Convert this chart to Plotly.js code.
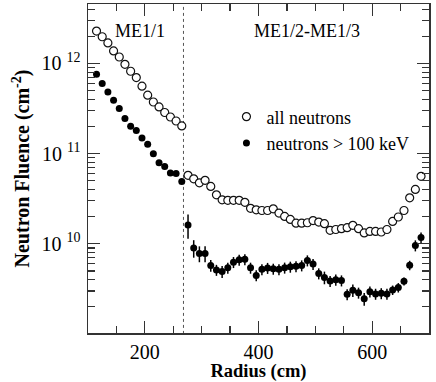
<!DOCTYPE html>
<html>
<head>
<meta charset="utf-8">
<script src="https://cdn.plot.ly/plotly-3.0.1.min.js"></script>
<style>html,body{margin:0;padding:0;background:#fff;}#chart{width:436px;height:382px;}</style>
</head>
<body>
<div id="chart"></div>
<script>
// Radius (cm)
const radius = [115,125,135,145,155,165,175,185,195,205,215,225,235,245,255,265,
  276,286,296,306,316,326,336,346,356,366,376,386,396,406,416,426,436,446,456,466,476,
  486,496,506,516,526,536,546,556,566,576,586,596,606,616,626,636,646,656,666,676,686];
// all neutrons (cm^-2)
const allNeutrons = [2.29e12,1.98e12,1.69e12,1.38e12,1.18e12,9.8e11,8.2e11,6.98e11,5.6e11,4.45e11,3.74e11,3.3e11,2.86e11,2.55e11,2.3e11,2.03e11,
  5.74e10,5.25e10,4.74e10,5.05e10,4.33e10,3.49e10,3.07e10,3.03e10,3.03e10,3.03e10,2.88e10,
  2.47e10,2.38e10,2.34e10,2.34e10,2.44e10,2.19e10,2.01e10,1.86e10,1.69e10,1.69e10,
  1.71e10,1.81e10,1.74e10,1.67e10,1.41e10,1.44e10,1.47e10,1.51e10,1.60e10,1.47e10,
  1.32e10,1.37e10,1.37e10,1.35e10,1.44e10,1.77e10,1.98e10,2.34e10,3.23e10,4.01e10,5.6e10];
// neutrons > 100 keV (cm^-2)
const fastNeutrons = [7.6e11,6.0e11,4.83e11,3.91e11,3.16e11,2.45e11,2.01e11,1.81e11,1.49e11,1.27e11,1.0e11,7.94e10,7.2e10,6.1e10,6.0e10,4.9e10,
  1.62e10,8.98e9,7.80e9,7.80e9,5.74e9,5.12e9,4.92e9,5.41e9,6.25e9,6.64e9,6.73e9,
  5.41e9,4.45e9,5.21e9,5.38e9,5.27e9,5.21e9,5.42e9,5.55e9,5.62e9,5.74e9,
  6.52e9,5.95e9,4.68e9,4.23e9,3.86e9,3.99e9,3.91e9,2.75e9,3.05e9,2.86e9,
  2.45e9,2.94e9,2.78e9,2.82e9,2.78e9,3.07e9,3.27e9,3.83e9,5.78e9,9.57e9,1.17e10];
// relative errors (%)
const allErrPct = [0,0,0,0,0,0,0,0,0,0,0,0,0,0,0,0,
  6,6,6,10,6,6,5,5,5,5,5,5,5,5,5,6,5,5,5,5,5,5,5,5,5,5,5,5,5,5,6,8,6,6,6,5,5,5,5,5,5,5];
const fastErrPct = [0,0,0,0,0,0,0,0,0,0,0,0,0,0,0,0,
  30,22,20,20,15,14,15,14,14,14,14,14,14,14,14,14,14,14,14,14,14,
  14,14,14,16,14,14,14,14,16,14,16,14,14,14,14,12,12,10,12,14,14];
// y tick labels
const yTickVals = [1e10, 1e11, 1e12];
const yTickText = ['10 <sup>10</sup>', '10 <sup>11</sup>', '10 <sup>12</sup>'];
const boundary = [268, 268];
const boundaryY = [1e9, 5e12];

const serif = 'Liberation Serif';
function errs(vals, pct){ return vals.map((v,i)=>v*pct[i]/100); }

const traces = [
  {x: boundary, y: boundaryY, mode:'lines', line:{color:'#555', width:1, dash:'dot'}, showlegend:false, hoverinfo:'skip'},
  {x: radius, y: allNeutrons, mode:'markers', name:'all neutrons',
   marker:{symbol:'circle', size:8, color:'#fff', line:{color:'#111', width:1.2}},
   error_y:{type:'data', array:errs(allNeutrons, allErrPct), color:'#111', thickness:1.2, width:0}},
  {x: radius, y: fastNeutrons, mode:'markers', name:'neutrons > 100 keV',
   marker:{symbol:'circle', size:7, color:'#000', line:{color:'#000', width:0}},
   error_y:{type:'data', array:errs(fastNeutrons, fastErrPct), color:'#000', thickness:1.5, width:0}}
];

const layout = {
  width:436, height:382,
  margin:{l:88, r:7, t:4, b:49},
  paper_bgcolor:'#fff', plot_bgcolor:'#fff',
  font:{family:serif, color:'#000'},
  showlegend:true,
  legend:{x:0.406, y:0.713, xanchor:'left', yanchor:'top', bgcolor:'rgba(0,0,0,0)',
    font:{family:serif, size:18, color:'#000'}, itemwidth:30, tracegroupgap:0},
  xaxis:{range:[100,700], tick0:0, dtick:200, ticks:'inside', ticklen:12, tickwidth:1.3,
    tickcolor:'#333', showline:true, linecolor:'#333', linewidth:1.5, mirror:'allticks',
    showgrid:false, zeroline:false, tickfont:{family:serif, size:20},
    minor:{dtick:50, ticks:'inside', ticklen:7, tickwidth:1.3, tickcolor:'#333', showgrid:false},
    title:{text:'<b>Radius (cm)</b>', font:{family:serif, size:18.5}, standoff:3}},
  yaxis:{type:'log', range:[9.01, 12.66], tickmode:'array', tickvals:yTickVals, ticktext:yTickText,
    ticks:'inside', ticklen:12,
    tickwidth:1.3, tickcolor:'#333', showline:true, linecolor:'#333', linewidth:1.5, mirror:'allticks',
    showgrid:false, zeroline:false, tickfont:{family:serif, size:20}, ticklabelstandoff:2,
    minor:{ticks:'inside', ticklen:7, tickwidth:1.3, tickcolor:'#333', showgrid:false, dtick:'D1'},
    title:{text:'<b>Neutron Fluence (cm<sup>-2</sup>)</b>', font:{family:serif, size:20}, standoff:6}},
  annotations:[
    {x:0.153, y:0.918, xref:'paper', yref:'paper', xanchor:'center', yanchor:'middle', text:'ME1/1', showarrow:false, font:{family:serif, size:18}},
    {x:0.641, y:0.918, xref:'paper', yref:'paper', xanchor:'center', yanchor:'middle', text:'ME1/2-ME1/3', showarrow:false, font:{family:serif, size:18}}
  ]
};

Plotly.newPlot('chart', traces, layout, {displayModeBar:false, staticPlot:true});
</script>
</body>
</html>
